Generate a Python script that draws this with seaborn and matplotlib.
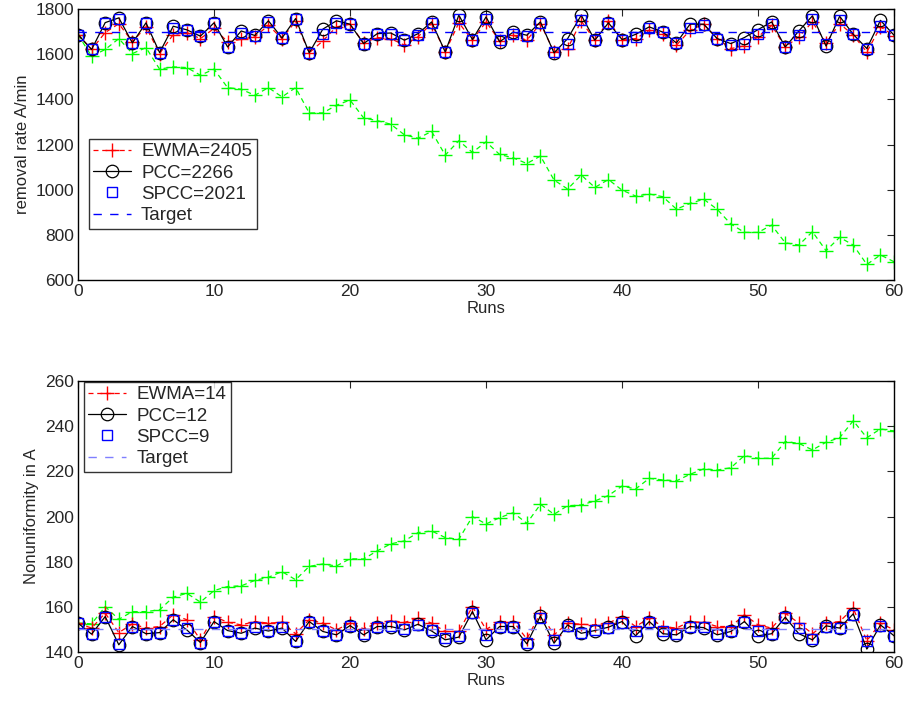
import numpy as np
import pandas as pd
import matplotlib
matplotlib.use("Agg")
import matplotlib.pyplot as plt
import seaborn as sns

runs = list(range(61))

# ---- Top panel: removal rate ----
rate_nocontrol = [1687, 1591, 1621, 1669, 1603, 1629, 1534, 1544, 1541, 1507,
                  1534, 1452, 1445, 1418, 1452, 1411, 1452, 1340, 1340, 1374,
                  1397, 1318, 1306, 1290, 1243, 1228, 1258, 1153, 1217, 1165,
                  1212, 1156, 1141, 1116, 1149, 1043, 1003, 1065, 1010, 1045,
                  998, 972, 981, 969, 914, 939, 958, 913, 848, 811,
                  811, 843, 765, 755, 814, 730, 789, 755, 669, 711, 681]
rate_ewma = [1687, 1621, 1696, 1735, 1655, 1721, 1603, 1687, 1696, 1669,
             1714, 1655, 1666, 1677, 1728, 1669, 1746, 1606, 1659, 1721,
             1733, 1650, 1674, 1669, 1640, 1677, 1736, 1610, 1739, 1662,
             1743, 1659, 1684, 1662, 1736, 1610, 1625, 1747, 1662, 1747,
             1665, 1669, 1706, 1691, 1640, 1706, 1733, 1669, 1625, 1637,
             1677, 1728, 1632, 1677, 1743, 1650, 1736, 1684, 1610, 1721, 1682]
rate_pcc = [1687, 1621, 1740, 1761, 1650, 1739, 1607, 1724, 1708, 1680,
            1739, 1632, 1703, 1683, 1748, 1672, 1758, 1606, 1711, 1748,
            1733, 1647, 1691, 1694, 1662, 1691, 1743, 1610, 1773, 1665,
            1765, 1655, 1698, 1684, 1743, 1606, 1669, 1773, 1662, 1739,
            1665, 1688, 1721, 1698, 1650, 1733, 1733, 1669, 1647, 1674,
            1709, 1743, 1632, 1703, 1770, 1636, 1768, 1688, 1625, 1750, 1684]
rate_spcc = [1687, 1621, 1738, 1755, 1650, 1739, 1607, 1718, 1706, 1680,
             1739, 1632, 1696, 1681, 1743, 1672, 1755, 1606, 1691, 1740,
             1733, 1647, 1691, 1688, 1662, 1687, 1740, 1610, 1758, 1665,
             1758, 1662, 1691, 1680, 1739, 1610, 1644, 1750, 1662, 1739,
             1665, 1677, 1714, 1698, 1650, 1714, 1728, 1669, 1640, 1647,
             1691, 1736, 1632, 1684, 1758, 1647, 1753, 1688, 1625, 1724, 1684]
rate_target = 1700

# ---- Bottom panel: nonuniformity ----
nonu_nocontrol = [152.8, 152.5, 160.1, 154.5, 157.9, 157.9, 158.7, 164.3, 166.0, 162.1,
                  167.2, 169.0, 169.3, 171.7, 173.1, 175.6, 172.0, 177.9, 179.0, 178.1,
                  181.3, 181.2, 184.8, 187.9, 189.2, 192.9, 193.6, 190.7, 189.9, 200.0,
                  196.7, 199.5, 201.7, 197.0, 205.4, 201.0, 204.8, 205.1, 206.9, 209.3,
                  213.5, 212.2, 216.9, 216.2, 215.8, 218.7, 221.1, 220.6, 221.6, 227.0,
                  225.8, 225.8, 233.2, 232.4, 229.5, 232.9, 234.9, 242.4, 234.9, 238.8, 237.9]
nonu_ewma = [152.8, 150.6, 157.2, 148.6, 152.5, 150.6, 151.3, 156.5, 154.3, 145.4,
             155.7, 153.2, 152.0, 153.5, 152.8, 153.1, 148.1, 154.3, 152.8, 149.8,
             152.8, 150.3, 152.8, 153.8, 153.1, 155.0, 152.8, 149.1, 149.1, 160.1,
             150.0, 153.5, 153.5, 145.8, 157.2, 147.6, 152.8, 152.3, 152.0, 152.8,
             155.7, 151.3, 155.0, 151.3, 150.6, 153.5, 153.1, 151.3, 151.3, 156.5,
             152.0, 150.6, 157.2, 152.8, 148.1, 152.8, 153.5, 159.4, 145.0, 152.8, 149.8]
nonu_pcc = [152.8, 147.9, 155.7, 143.2, 151.3, 148.1, 148.6, 154.3, 149.8, 144.2,
            153.5, 149.5, 148.3, 150.6, 149.3, 150.6, 144.7, 153.5, 149.1, 147.6,
            151.7, 147.6, 151.3, 151.3, 149.8, 152.3, 149.3, 145.4, 146.6, 157.9,
            145.4, 151.3, 151.3, 143.6, 156.0, 143.9, 152.0, 148.3, 149.5, 151.0,
            153.5, 147.2, 153.5, 148.1, 147.6, 151.3, 150.8, 147.6, 149.1, 153.5,
            147.2, 148.1, 155.4, 148.1, 145.4, 151.6, 150.6, 156.9, 141.3, 152.0, 147.2]
nonu_spcc = [152.8, 147.9, 155.4, 143.6, 151.3, 148.1, 148.6, 154.3, 150.6, 144.2,
             153.5, 149.5, 148.6, 151.0, 149.5, 151.0, 145.0, 153.5, 149.5, 147.6,
             151.7, 148.1, 151.3, 151.6, 150.1, 152.0, 149.8, 146.1, 146.9, 157.5,
             147.5, 151.0, 151.0, 143.9, 155.0, 145.4, 151.6, 148.3, 149.8, 150.6,
             152.8, 149.1, 153.1, 149.1, 148.1, 151.3, 151.3, 148.1, 149.1, 153.5,
             149.1, 148.1, 155.4, 150.6, 145.7, 151.3, 150.6, 156.5, 144.7, 151.6, 147.2]
nonu_target = 150

top_labels = ["EWMA=2405", "PCC=2266", "SPCC=2021", "Target"]
bot_labels = ["EWMA=14", "PCC=12", "SPCC=9", "Target"]

sns.set_style("white")
plt.rcParams["font.family"] = ["Liberation Sans", "DejaVu Sans"]
plt.rcParams["font.size"] = 12

fig = plt.figure(figsize=(9.06, 7.02), dpi=100)
ax1 = fig.add_axes([0.0861, 0.6011, 0.9007, 0.386])
ax2 = fig.add_axes([0.0861, 0.0712, 0.9007, 0.386])


def draw(ax, nocontrol, ewma, pcc, spcc, target, labels, target_color, ylim, yticks, ylabel, legend_bbox):
    n = len(runs)
    sns.lineplot(x=runs, y=nocontrol, ax=ax, color="#00ff00", linestyle=(0, (4, 3)),
                 linewidth=0.9, marker="+", markersize=9.5, markeredgewidth=1.0,
                 markeredgecolor="#00ff00", label="_nolegend_")
    sns.lineplot(x=runs, y=ewma, ax=ax, color="red", linestyle=(0, (4, 3)),
                 linewidth=0.9, marker="+", markersize=9.5, markeredgewidth=1.0,
                 markeredgecolor="red", label=labels[0])
    sns.lineplot(x=runs, y=pcc, ax=ax, color="black", linestyle="-",
                 linewidth=0.9, marker="o", markersize=9, markerfacecolor="none",
                 markeredgecolor="black", markeredgewidth=0.9, label=labels[1])
    sns.lineplot(x=runs, y=spcc, ax=ax, color="blue", linestyle="none",
                 marker="s", markersize=7.5, markerfacecolor="none",
                 markeredgecolor="blue", markeredgewidth=1.0, label=labels[2])
    sns.lineplot(x=runs, y=[target] * n, ax=ax, color=target_color, linestyle=(0, (6, 6)),
                 linewidth=1.0, label=labels[3])
    ax.set_xlim(0, 60)
    ax.set_ylim(*ylim)
    ax.set_xticks([0, 10, 20, 30, 40, 50, 60])
    ax.set_yticks(yticks)
    ax.set_xlabel("Runs", fontsize=12, labelpad=1)
    ax.set_ylabel(ylabel, fontsize=12)
    ax.tick_params(direction="in", top=True, right=True, length=5, width=0.8,
                   labelsize=12.5, pad=3)
    for s in ax.spines.values():
        s.set_color("black")
        s.set_linewidth(1.0)
        s.set_visible(True)
    leg = ax.legend(loc="upper left", bbox_to_anchor=legend_bbox, frameon=True,
                    fancybox=False, edgecolor="black", fontsize=13.5,
                    handlelength=2.0, borderpad=0.25, labelspacing=0.22,
                    handletextpad=0.55, borderaxespad=0)
    leg.get_frame().set_linewidth(1.0)


draw(ax1, rate_nocontrol, rate_ewma, rate_pcc, rate_spcc, rate_target, top_labels,
     "blue", (600, 1800), [600, 800, 1000, 1200, 1400, 1600, 1800],
     "removal rate A/min", (0.013, 0.522))
draw(ax2, nonu_nocontrol, nonu_ewma, nonu_pcc, nonu_spcc, nonu_target, bot_labels,
     "#7f7fff", (140, 260), [140, 160, 180, 200, 220, 240, 260],
     "Nonuniformity in A", (0.007, 0.998))

fig.savefig("out.png", dpi=100)
